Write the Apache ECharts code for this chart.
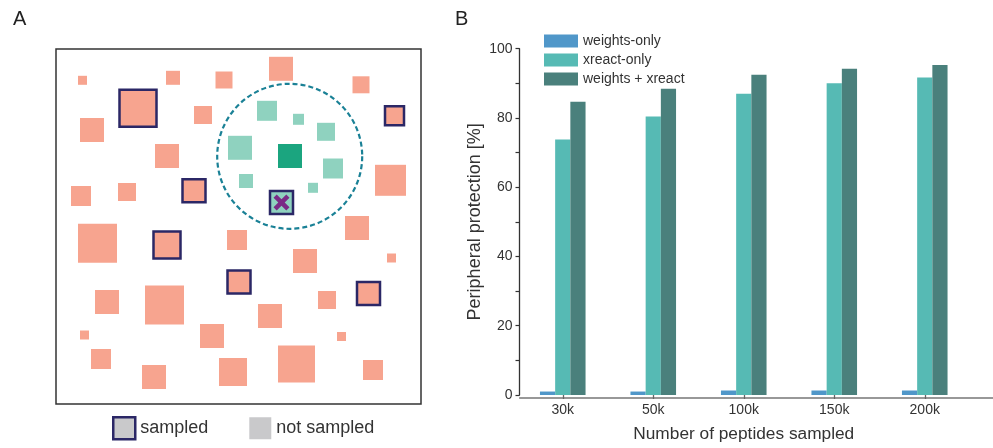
<!DOCTYPE html>
<html>
<head>
<meta charset="utf-8">
<script src="https://cdn.jsdelivr.net/npm/echarts@6/dist/echarts.min.js"></script>
<style>
html,body{margin:0;padding:0;background:#fff;}
#chart{width:993px;height:448px;}
</style>
</head>
<body>
<div id="chart"></div>
<script>
// ---------- Panel B data ----------
var categories = ['30k', '50k', '100k', '150k', '200k'];
var weightsOnly = [1.0, 1.0, 1.3, 1.3, 1.3];
var xreactOnly = [73.8, 80.4, 87.0, 90.0, 91.7];
var weightsXreact = [84.7, 88.4, 92.5, 94.2, 95.3];
var yTicks = [0, 20, 40, 60, 80, 100];

// ---------- Panel A schematic data: [x, y, size] in box units ----------
var notSampled = [
  [26.5, 31.3, 9], [117, 28.8, 14], [168, 31, 17], [225, 19.8, 24], [305, 35.8, 17],
  [36, 81, 24], [147, 66, 18], [111, 107, 24], [25, 147, 20], [71, 143, 18],
  [334.5, 131.3, 31], [41.5, 194.3, 39], [181, 191, 20], [301, 179, 24], [249, 212, 24],
  [335.5, 209, 9], [51, 253, 24], [108.5, 256, 39], [271, 251, 18], [214, 267, 24],
  [156, 287, 24], [28.5, 286, 9], [285.5, 287.5, 9], [45, 310, 20], [98, 328, 24],
  [177, 323, 28], [240.5, 315, 37], [317, 321, 20]
];
var sampled = [
  [82, 59.3, 39], [338.5, 66.8, 21], [138, 141.7, 25], [111, 196, 29], [183, 233, 25], [312.5, 244.5, 25]
];
var neighbours = [
  [211, 61.8, 20], [242.5, 70.3, 11], [270, 82.8, 18], [184, 98.8, 24], [277, 119.5, 20], [190, 132, 14], [257, 138.8, 10]
];
var centerPeptide = [[234, 107, 24]];
var sampledNeighbour = [[225.5, 153.5, 25]];
var neighbourhood = [[233.7, 107.3, 145]];

var FONT = '"Liberation Sans", Arial, Helvetica, sans-serif';
var salmon = '#f7a48f', mint = '#8fd2bf', navy = '#2b2766';

var chart = echarts.init(document.getElementById('chart'), null, {renderer: 'canvas'});

function sq(name, data, color, opts) {
  var s = {
    name: name, type: 'scatter', xAxisIndex: 0, yAxisIndex: 0, silent: true,
    symbol: 'rect', data: data,
    symbolSize: function (v) { return v[2]; },
    itemStyle: {color: color, opacity: 1}
  };
  if (opts) { for (var k in opts) s[k] = opts[k]; }
  return s;
}

var option = {
  animation: false,
  backgroundColor: '#fff',
  textStyle: {fontFamily: FONT},
  title: [
    {text: 'A', left: 13, top: 9, padding: 0, textStyle: {fontFamily: FONT, fontSize: 20, fontWeight: 'normal', color: '#222'}},
    {text: 'B', left: 455, top: 9, padding: 0, textStyle: {fontFamily: FONT, fontSize: 20, fontWeight: 'normal', color: '#222'}}
  ],
  legend: [
    {
      left: 112, top: 416, padding: 0, itemWidth: 22, itemHeight: 22, itemGap: 41, selectedMode: false,
      icon: 'rect',
      textStyle: {fontFamily: FONT, fontSize: 18, color: '#333'},
      data: [
        {name: 'sampled', itemStyle: {color: '#c9c9cb', borderColor: navy, borderWidth: 2.5}},
        {name: 'not sampled', itemStyle: {color: '#c9c9cb', borderWidth: 0}}
      ]
    },
    {
      orient: 'vertical', left: 544, top: 34, padding: 0, itemWidth: 34, itemHeight: 13, itemGap: 5,
      selectedMode: false, icon: 'rect',
      textStyle: {fontFamily: FONT, fontSize: 14, color: '#333'},
      data: ['weights-only', 'xreact-only', 'weights + xreact']
    }
  ],
  grid: [
    {left: 56, top: 49, width: 365, height: 355, show: true, borderColor: '#333', borderWidth: 1.5, backgroundColor: 'transparent'},
    {left: 517.5, top: 48.7, width: 452.5, height: 349},
    {left: 519.7, top: 48.7, right: 0, height: 349}
  ],
  xAxis: [
    {gridIndex: 0, type: 'value', min: 0, max: 365, show: false},
    {
      gridIndex: 1, type: 'category', data: categories, boundaryGap: true,
      axisLine: {show: false},
      axisTick: {show: true, alignWithLabel: true, length: 4, lineStyle: {color: '#666', width: 1.3}},
      axisLabel: {fontFamily: FONT, fontSize: 14, color: '#333', margin: 8},
      name: 'Number of peptides sampled', nameLocation: 'middle', nameGap: 31,
      nameTextStyle: {fontFamily: FONT, fontSize: 17.3, color: '#333'}
    },
    {
      gridIndex: 2, type: 'value', min: 0, max: 1,
      axisLine: {show: true, lineStyle: {color: '#777', width: 1.6}},
      axisTick: {show: false}, axisLabel: {show: false}, splitLine: {show: false}
    }
  ],
  yAxis: [
    {gridIndex: 0, type: 'value', min: 0, max: 355, inverse: true, show: false},
    {
      gridIndex: 1, type: 'value', min: yTicks[0], max: yTicks[yTicks.length - 1], interval: 20,
      offset: -2,
      axisLine: {show: true, lineStyle: {color: '#333', width: 1.3}},
      axisTick: {show: true, length: 4, lineStyle: {color: '#333', width: 1.2}},
      minorTick: {show: true, splitNumber: 2, length: 4, lineStyle: {color: '#333', width: 1.2}},
      splitLine: {show: false},
      axisLabel: {fontFamily: FONT, fontSize: 14, color: '#333', margin: 7},
      name: 'Peripheral protection [%]', nameLocation: 'middle', nameGap: 35, nameRotate: 90,
      nameTextStyle: {fontFamily: FONT, fontSize: 18, color: '#333'}
    },
    {gridIndex: 2, type: 'value', show: false, min: 0, max: 1}
  ],
  series: [
    sq('not sampled', notSampled, salmon),
    sq('sampled', sampled, salmon, {
      symbolSize: function (v) { return v[2] - 2; },
      itemStyle: {color: salmon, borderColor: navy, borderWidth: 2.5, opacity: 1}
    }),
    sq('neighbours', neighbours, mint),
    sq('center', centerPeptide, '#1ba57f'),
    sq('sampledNeighbour', sampledNeighbour, mint, {
      symbolSize: function (v) { return v[2] - 2; },
      itemStyle: {color: mint, borderColor: navy, borderWidth: 2.5, opacity: 1}
    }),
    sq('cross', sampledNeighbour, '#7b2a86', {
      symbol: 'path://M2,0 L5,3 L8,0 L10,2 L7,5 L10,8 L8,10 L5,7 L2,10 L0,8 L3,5 L0,2 Z',
      symbolSize: 16
    }),
    sq('circle', neighbourhood, 'transparent', {
      symbol: 'circle',
      itemStyle: {color: 'rgba(0,0,0,0)', borderColor: '#1a8196', borderWidth: 2.2, borderType: [5, 3], opacity: 1}
    }),
    {
      name: 'weights-only', type: 'bar', xAxisIndex: 1, yAxisIndex: 1, data: weightsOnly,
      barWidth: 15.2, barGap: '0%', itemStyle: {color: '#5097c9'}, silent: true
    },
    {
      name: 'xreact-only', type: 'bar', xAxisIndex: 1, yAxisIndex: 1, data: xreactOnly,
      barWidth: 15.2, barGap: '0%', itemStyle: {color: '#56bab4'}, silent: true
    },
    {
      name: 'weights + xreact', type: 'bar', xAxisIndex: 1, yAxisIndex: 1, data: weightsXreact,
      barWidth: 15.2, barGap: '0%', itemStyle: {color: '#4a807c'}, silent: true
    }
  ]
};
chart.setOption(option);
</script>
</body>
</html>
